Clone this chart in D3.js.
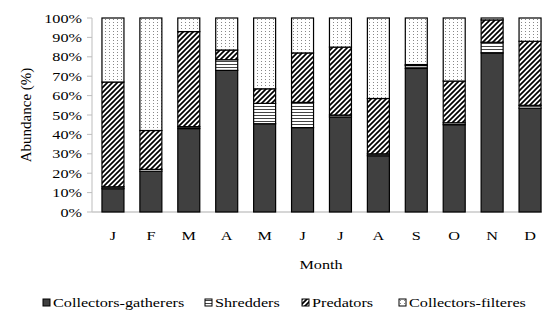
<!DOCTYPE html>
<html>
<head>
<meta charset="utf-8">
<script src="https://cdn.jsdelivr.net/npm/d3@7"></script>
<style>
  body { margin: 0; background: #fff; }
</style>
</head>
<body>
<div id="chart"></div>
<script>
var months = ["J","F","M","A","M","J","J","A","S","O","N","D"]
var gatherers = [12, 21, 43, 73, 45.5, 43.5, 49, 29, 74, 45, 82, 53.5]
var shredders = [1, 1, 1, 5.5, 10.5, 13, 1, 1, 1.5, 1, 5.5, 1.5]
var predators = [54, 20, 49, 5, 7.5, 25.5, 35, 28.5, 0.5, 21.5, 11.5, 33]
var filterers = [33, 58, 7, 16.5, 36.5, 18, 15, 41.5, 24, 32.5, 1, 12]
var seriesNames = ["Collectors-gatherers", "Shredders", "Predators", "Collectors-filteres"]
var yTicks = [0,10,20,30,40,50,60,70,80,90,100]

var width = 542, height = 311
var sx = 1.2 // the source picture is stretched sideways, so text is too
var serif = "'Liberation Serif', 'Times New Roman', 'DejaVu Serif', serif"

var svg = d3.select("#chart").append("svg")
  .attr("width", width).attr("height", height)
  .attr("font-family", serif)

// fill patterns
var defs = svg.append("defs")
var pH = defs.append("pattern").attr("id", "shred")
  .attr("patternUnits", "userSpaceOnUse").attr("width", 4).attr("height", 3)
pH.append("rect").attr("width", 4).attr("height", 3).attr("fill", "#fff")
pH.append("rect").attr("y", 1).attr("width", 4).attr("height", 1).attr("fill", "#444")

var pD = defs.append("pattern").attr("id", "pred")
  .attr("patternUnits", "userSpaceOnUse").attr("width", 5).attr("height", 5)
pD.append("rect").attr("width", 5).attr("height", 5).attr("fill", "#fff")
pD.append("path").attr("d", "M-1,1 L1,-1 M0,5 L5,0 M4,6 L6,4")
  .attr("stroke", "#000").attr("stroke-width", 1.7)

var pF = defs.append("pattern").attr("id", "filt")
  .attr("patternUnits", "userSpaceOnUse").attr("width", 4).attr("height", 3)
pF.append("rect").attr("width", 4).attr("height", 3).attr("fill", "#fff")
pF.append("rect").attr("x", 1).attr("y", 1).attr("width", 1).attr("height", 1).attr("fill", "#888")

var fills = ["#404040", "url(#shred)", "url(#pred)", "url(#filt)"]

var rows = months.map(function(m, i){
  return {idx: i, month: m, g: gatherers[i], s: shredders[i], p: predators[i], f: filterers[i]}
})
var stack = d3.stack().keys(["g","s","p","f"])
var layers = stack(rows)

var x = d3.scaleBand()
  .domain(d3.range(months.length))
  .range([94, 549])
  .paddingInner(0.42)
  .paddingOuter(0.21)

var y = d3.scaleLinear().domain([0, 100]).range([212, 18])

// axes lines
svg.append("line").attr("x1", 92).attr("x2", 92).attr("y1", 18).attr("y2", 212)
  .attr("stroke", "#bdbdbd")
svg.append("line").attr("x1", 92).attr("x2", 542).attr("y1", 212).attr("y2", 212)
  .attr("stroke", "#c8c8c8").attr("stroke-width", 1.5)
svg.selectAll(".ytick").data(yTicks).enter().append("line")
  .attr("x1", 87).attr("x2", 92)
  .attr("y1", function(d){ return y(d) }).attr("y2", function(d){ return y(d) })
  .attr("stroke", "#bdbdbd")

svg.selectAll(".ylab").data(yTicks).enter().append("text")
  .attr("transform", function(d){ return "translate(82," + (y(d) + 4.5) + ") scale(" + sx + ",1)" })
  .attr("text-anchor", "end")
  .attr("font-family", serif)
  .attr("font-size", 13.5)
  .text(function(d){ return d + "%" })

// bars
svg.selectAll(".layer").data(layers).enter().append("g")
  .attr("fill", function(d, i){ return fills[i] })
  .selectAll("rect").data(function(d){ return d }).enter().append("rect")
    .attr("x", function(d){ return x(d.data.idx) })
    .attr("width", x.bandwidth())
    .attr("y", function(d){ return y(d[1]) })
    .attr("height", function(d){ return y(d[0]) - y(d[1]) })
    .attr("stroke", "#000")
    .attr("stroke-width", 1.2)

// month labels
svg.selectAll(".xlab").data(rows).enter().append("text")
  .attr("transform", function(d){ return "translate(" + (x(d.idx) + x.bandwidth() / 2) + ",240) scale(" + sx + ",1)" })
  .attr("text-anchor", "middle")
  .attr("font-family", serif)
  .attr("font-size", 13.5)
  .text(function(d){ return d.month })

svg.append("text")
  .attr("transform", "translate(321,269) scale(" + sx + ",1)")
  .attr("text-anchor", "middle")
  .attr("font-family", serif)
  .attr("font-size", 13.5)
  .text("Month")

svg.append("text")
  .attr("transform", "translate(31,115) rotate(-90)")
  .attr("text-anchor", "middle")
  .attr("font-family", serif)
  .attr("font-size", 15)
  .text("Abundance (%)")

// legend
var legendX = [43, 205, 302, 399]
var leg = svg.selectAll(".leg").data(seriesNames).enter().append("g")
  .attr("transform", function(d, i){ return "translate(" + legendX[i] + ",299)" })
leg.append("rect")
  .attr("width", 7).attr("height", 7)
  .attr("fill", function(d, i){ return fills[i] })
  .attr("stroke", "#000").attr("stroke-width", 1)
leg.append("text")
  .attr("transform", "translate(10,8) scale(" + sx + ",1)")
  .attr("font-family", serif)
  .attr("font-size", 13.5)
  .text(function(d){ return d })
</script>
</body>
</html>
